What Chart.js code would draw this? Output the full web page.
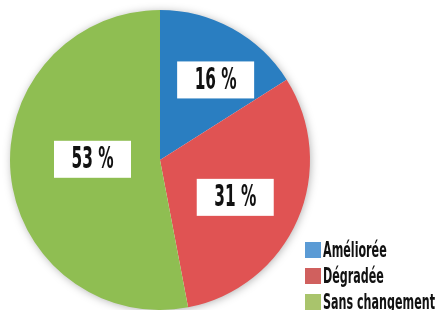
<!DOCTYPE html>
<html>
<head>
<meta charset="utf-8">
<script src="https://cdn.jsdelivr.net/npm/chart.js@4"></script>
<style>
  body { margin: 0; background: #fff; }
  #wrap { width: 435px; height: 310px; }
</style>
</head>
<body>
<div id="wrap"><canvas id="pieChart"></canvas></div>
<script>
const categories = ['Améliorée', 'Dégradée', 'Sans changement'];
const shares = [16, 31, 53];

const sliceColors = ['#2a7ec1', '#e05353', '#8fbe52'];
const legendColors = ['#5b9bd5', '#d0605e', '#a9c46c'];
// label placement inside each slice: fraction of radius, angle shift in degrees
const labelRadius = [0.65, 0.56, 0.45];
const labelShift = [6, 3, 6];

const FONT = '"Liberation Sans Narrow", "DejaVu Sans Condensed", "Roboto", sans-serif';

const shadowPlugin = {
    id: 'pieShadow',
    beforeDatasetsDraw(chart) {
        const arc = chart.getDatasetMeta(0).data[0];
        if (!arc) return;
        const ctx = chart.ctx;
        ctx.save();
        ctx.shadowColor = 'rgba(0,0,0,0.35)';
        ctx.shadowBlur = 10;
        ctx.shadowOffsetX = 1;
        ctx.shadowOffsetY = 1;
        ctx.fillStyle = '#ffffff';
        ctx.beginPath();
        ctx.arc(arc.x, arc.y, arc.outerRadius - 1, 0, Math.PI * 2);
        ctx.fill();
        ctx.restore();
    }
};

const labelPlugin = {
    id: 'boxLabels',
    afterDatasetsDraw(chart) {
        const ctx = chart.ctx;
        const meta = chart.getDatasetMeta(0);
        ctx.save();
        ctx.font = 'bold 30px ' + FONT;
        // squeeze the text so "16 %" is about 42px wide, like the condensed original
        const squeeze = 42 / ctx.measureText('16 %').width;
        ctx.restore();
        meta.data.forEach((arc, i) => {
            const mid = (arc.startAngle + arc.endAngle) / 2 + labelShift[i] * Math.PI / 180;
            const r = arc.outerRadius * labelRadius[i];
            const x = arc.x + Math.cos(mid) * r;
            const y = arc.y + Math.sin(mid) * r;
            const text = shares[i] + ' %';
            ctx.save();
            ctx.fillStyle = '#ffffff';
            ctx.fillRect(x - 38.5, y - 18.5, 77, 37);
            ctx.font = 'bold 30px ' + FONT;
            ctx.textAlign = 'center';
            ctx.textBaseline = 'middle';
            ctx.fillStyle = '#111111';
            ctx.translate(x, y + 1);
            ctx.scale(squeeze, 1);
            ctx.fillText(text, 0, 0);
            ctx.restore();
        });
    }
};

const legendPlugin = {
    id: 'sideLegend',
    afterDraw(chart) {
        const ctx = chart.ctx;
        const left = 305;
        const top = 242;
        const step = 26;
        ctx.save();
        ctx.font = 'bold 21px ' + FONT;
        const squeeze = 112 / ctx.measureText('Sans changement').width;
        ctx.restore();
        categories.forEach((name, i) => {
            const y = top + i * step;
            ctx.save();
            ctx.fillStyle = legendColors[i];
            ctx.fillRect(left, y, 16, 16);
            ctx.font = 'bold 21px ' + FONT;
            ctx.textAlign = 'left';
            ctx.textBaseline = 'alphabetic';
            ctx.fillStyle = '#111111';
            ctx.translate(left + 18, y + 15);
            ctx.scale(squeeze, 1);
            ctx.fillText(name, 0, 0);
            ctx.restore();
        });
    }
};

const config = {
    type: 'pie',
    data: {
        labels: categories,
        datasets: [{
            data: shares,
            backgroundColor: sliceColors,
            borderWidth: 0
        }]
    },
    options: {
        responsive: true,
        maintainAspectRatio: false,
        animation: false,
        layout: {
            padding: { left: 10, top: 10, right: 125, bottom: 0 }
        },
        plugins: {
            legend: { display: false },
            tooltip: { enabled: false }
        }
    },
    plugins: [shadowPlugin, labelPlugin, legendPlugin]
};

const pieChart = new Chart(document.getElementById('pieChart'), config);
</script>
</body>
</html>
